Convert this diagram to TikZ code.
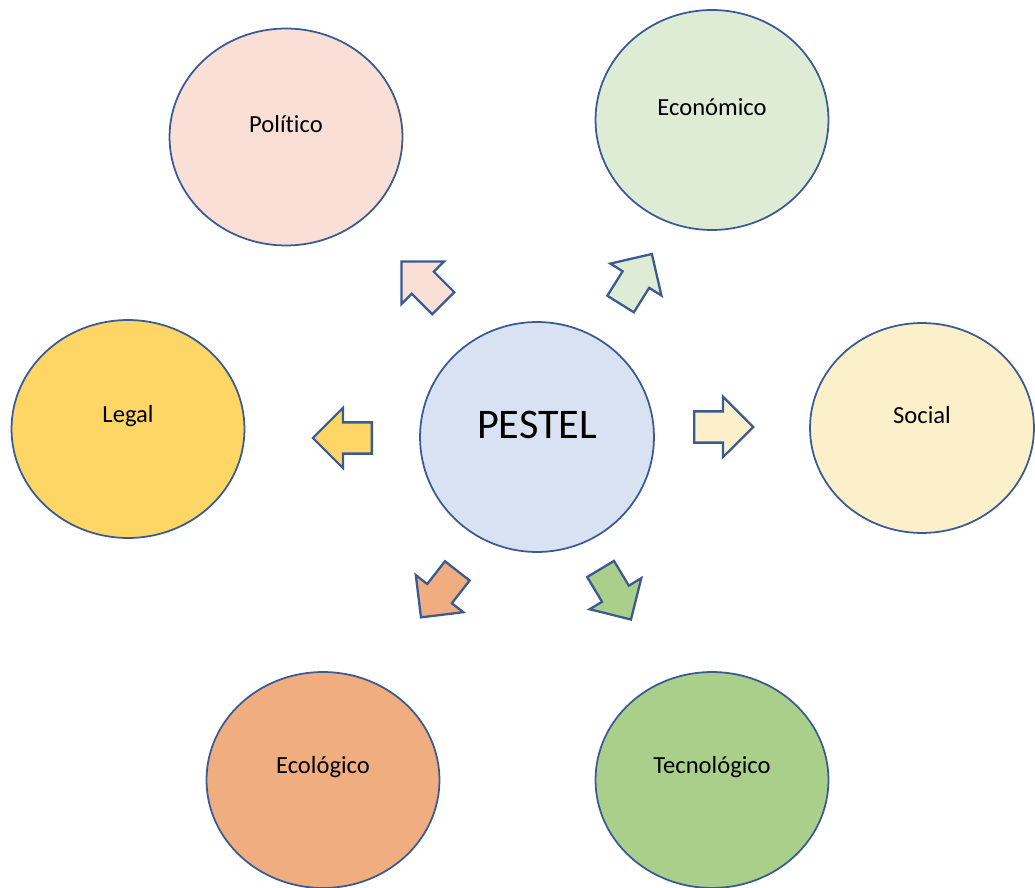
\documentclass[tikz,border=0pt]{standalone}
\usepackage{fontspec}
\setmainfont[Ligatures=NoCommon]{Carlito}
\usetikzlibrary{shapes.geometric,shapes.arrows}

\definecolor{edge}{HTML}{3A5A94}
\definecolor{polcol}{HTML}{F9DFD6}
\definecolor{ecocol}{HTML}{DEEBD5}
\definecolor{legcol}{HTML}{FED665}
\definecolor{pescol}{HTML}{D9E2F3}
\definecolor{soccol}{HTML}{FCF0CA}
\definecolor{ecolcol}{HTML}{F0AD80}
\definecolor{teccol}{HTML}{A9CF8B}

\begin{document}
\begin{tikzpicture}[x=0.02cm,y=-0.02cm,
		factor/.style={ellipse,draw=edge,line width=1pt,fill=#1,inner sep=0pt,minimum width=4.66cm,minimum height=4.34cm},
		blockarrow/.style={single arrow,draw=edge,line width=1.3pt,fill=#1,anchor=tail,inner xsep=0pt,inner ysep=0.29cm,minimum height=1.18cm,minimum width=1.16cm,single arrow head extend=0.29cm,single arrow tip angle=90},
		txt/.style={yshift=0.25cm,font=\fontsize{14}{16}\selectfont}]
	\useasboundingbox (0,0) rectangle (1035,888);

	% centre
	\node[factor=pescol,minimum width=4.68cm,minimum height=4.6cm,label={[txt,font=\fontsize{24}{28}\selectfont]center:PESTEL}] (pestel) at (537,437) {};

	% the six factors
	\node[factor=polcol,label={[txt]center:Político}] (pol) at (286,137) {};
	\node[factor=ecocol,minimum height=4.4cm,label={[txt]center:Económico}] (eco) at (712,120) {};
	\node[factor=legcol,minimum height=4.36cm,label={[txt]center:Legal}] (leg) at (128,429) {};
	\node[factor=soccol,minimum width=4.48cm,minimum height=4.2cm,label={[txt]center:Social}] (soc) at (922,428) {};
	\node[factor=ecolcol,minimum height=4.32cm,label={[txt]center:Ecológico}] (ecol) at (323,780) {};
	\node[factor=teccol,minimum height=4.32cm,label={[txt]center:Tecnológico}] (tec) at (712,780) {};

	% block arrows out of the centre (placed by their tails)
	\node[blockarrow=polcol,rotate=135] (apol) at (444,304) {};
	\node[blockarrow=ecocol,rotate=58] (aeco) at (620,305) {};
	\node[blockarrow=legcol,rotate=180] (aleg) at (373,438) {};
	\node[blockarrow=soccol] (asoc) at (693,427) {};
	\node[blockarrow=ecolcol,rotate=232] (aecol) at (458,570) {};
	\node[blockarrow=teccol,rotate=-59] (atec) at (600,568) {};
\end{tikzpicture}
\end{document}
